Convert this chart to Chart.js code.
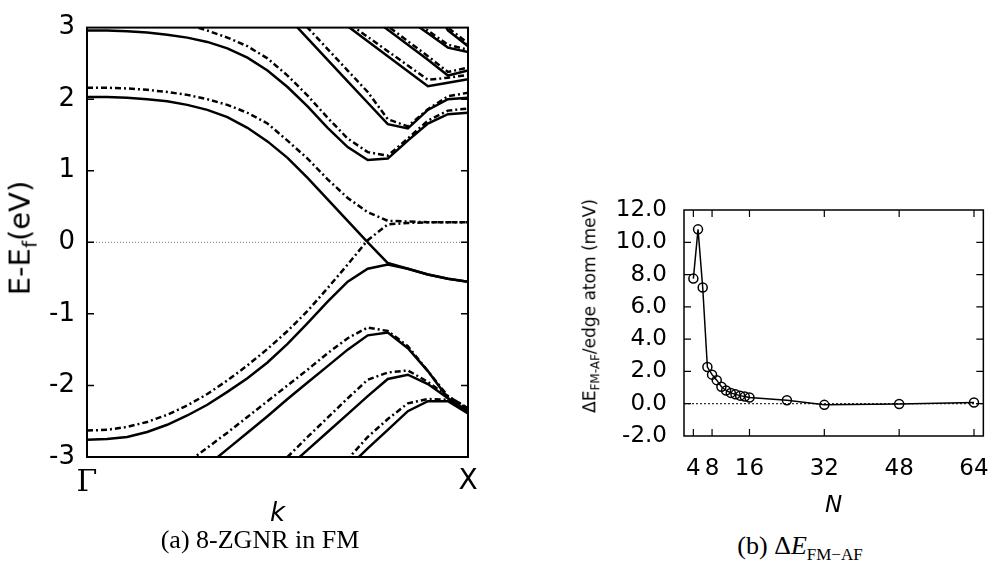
<!DOCTYPE html>
<html>
<head>
<meta charset="utf-8">
<script src="https://cdn.jsdelivr.net/npm/chart.js@4.4.1/dist/chart.umd.min.js"></script>
<style>
  body { margin: 0; width: 1008px; height: 567px; background: #fff; position: relative; overflow: hidden; font-family: "DejaVu Sans"; }
  canvas { position: absolute; }
  .ytitle { position: absolute; transform: translate(-50%, -50%) rotate(-90deg); white-space: nowrap; color: #000; }
  .caption { position: absolute; transform: translateX(-50%); font-family: "Liberation Serif"; font-size: 26px; white-space: nowrap; }
</style>
</head>
<body>
<canvas id="bandChart" width="500" height="530" style="left:0;top:0"></canvas>
<canvas id="gapChart" width="428" height="520" style="left:580px;top:0"></canvas>
<div class="ytitle" style="left:22px;top:238px;font-size:29px">E-E<sub style="font-size:20px">f</sub>(eV)</div>
<div class="ytitle" style="left:591px;top:306px;font-size:17px">ΔE<sub style="font-size:12px">FM-AF</sub>/edge atom (meV)</div>
<div class="caption" style="left:260px;top:525px">(a) 8-ZGNR in FM</div>
<div class="caption" style="left:800px;top:531px">(b) Δ<i>E</i><sub style="font-size:17px">FM−AF</sub></div>
<script>
// (a) band structure, k index 0 (Γ) .. 19 (X)
const kIdx = [0, 1, 2, 3, 4, 5, 6, 7, 8, 9, 10, 11, 12, 13, 14, 15, 16, 17, 18, 19];
const kTickIdx = [0, 19];
const kLabels = ['Γ', 'X'];
const zeroK = [0, 19];

// spin up (solid)
const c1Up = [2.03, 2.03, 2.02, 2.00, 1.97, 1.92, 1.85, 1.75, 1.60, 1.41, 1.18, 0.90, 0.60, 0.30, 0.00, -0.29, -0.37, -0.45, -0.51, -0.55];
const v1Up = [-2.76, -2.75, -2.72, -2.65, -2.55, -2.42, -2.27, -2.09, -1.90, -1.68, -1.42, -1.13, -0.83, -0.55, -0.37, -0.31, -0.37, -0.45, -0.51, -0.55];
const c2Up = [2.96, 2.96, 2.95, 2.93, 2.90, 2.86, 2.80, 2.71, 2.58, 2.40, 2.17, 1.90, 1.60, 1.33, 1.15, 1.17, 1.42, 1.66, 1.79, 1.81];
const c3Up = [null, null, null, null, null, null, null, null, null, null, 3.15, 2.85, 2.55, 2.25, 1.95, 1.65, 1.59, 1.85, 2.00, 2.02];
const c4Up = [null, null, null, null, null, null, null, null, null, null, null, null, 3.23, 3.02, 2.81, 2.60, 2.39, 2.18, 2.23, 2.28];
const c5Up = [null, null, null, null, null, null, null, null, null, null, null, null, null, null, 3.18, 2.97, 2.76, 2.55, 2.33, 2.40];
const c6Up = [null, null, null, null, null, null, null, null, null, null, null, null, null, null, null, null, 3.12, 2.92, 2.72, 2.66];
const c7Up = [null, null, null, null, null, null, null, null, null, null, null, null, null, null, null, null, null, 3.45, 2.96, 2.74];
const v2Up = [null, null, null, null, null, -3.35, -3.12, -2.89, -2.66, -2.43, -2.19, -1.96, -1.73, -1.50, -1.30, -1.26, -1.48, -1.80, -2.18, -2.38];
const v3Up = [null, null, null, null, null, null, null, null, null, -3.40, -3.15, -2.90, -2.65, -2.40, -2.15, -1.91, -1.85, -1.98, -2.18, -2.36];
const v4Up = [null, null, null, null, null, null, null, null, null, null, null, null, -3.40, -3.15, -2.88, -2.62, -2.36, -2.22, -2.22, -2.39];

// spin down (dash-dot)
const c1Dn = [2.16, 2.16, 2.15, 2.13, 2.10, 2.06, 2.00, 1.92, 1.81, 1.66, 1.42, 1.17, 0.88, 0.62, 0.42, 0.30, 0.29, 0.28, 0.28, 0.28];
const v1Dn = [-2.63, -2.62, -2.58, -2.51, -2.41, -2.28, -2.12, -1.93, -1.72, -1.49, -1.24, -0.96, -0.64, -0.31, 0.03, 0.25, 0.27, 0.28, 0.28, 0.28];
const c2Dn = [3.10, 3.10, 3.09, 3.08, 3.07, 3.04, 2.96, 2.86, 2.74, 2.57, 2.33, 2.05, 1.74, 1.45, 1.26, 1.21, 1.45, 1.70, 1.84, 1.87];
const c3Dn = [null, null, null, null, null, null, null, null, null, null, 3.30, 3.00, 2.70, 2.40, 2.10, 1.72, 1.62, 1.86, 2.04, 2.09];
const c4Dn = [null, null, null, null, null, null, null, null, null, null, null, null, 3.28, 3.07, 2.87, 2.67, 2.47, 2.27, 2.30, 2.34];
const c5Dn = [null, null, null, null, null, null, null, null, null, null, null, null, null, null, 3.23, 3.02, 2.81, 2.60, 2.38, 2.44];
const c6Dn = [null, null, null, null, null, null, null, null, null, null, null, null, null, null, null, null, 3.17, 2.96, 2.76, 2.69];
const c7Dn = [null, null, null, null, null, null, null, null, null, null, null, null, null, null, null, null, null, 3.50, 3.00, 2.78];
const v2Dn = [null, null, null, null, -3.29, -3.08, -2.87, -2.66, -2.44, -2.22, -2.00, -1.78, -1.55, -1.34, -1.19, -1.24, -1.45, -1.80, -2.15, -2.32];
const v3Dn = [null, null, null, null, null, null, null, null, null, -3.28, -3.00, -2.72, -2.45, -2.18, -1.92, -1.82, -1.79, -1.95, -2.15, -2.32];
const v4Dn = [null, null, null, null, null, null, null, null, null, null, null, null, -3.35, -3.03, -2.72, -2.47, -2.25, -2.19, -2.20, -2.32];

const upBands = [c1Up, v1Up, c2Up, c3Up, c4Up, c5Up, c6Up, c7Up, v2Up, v3Up, v4Up];
const dnBands = [c1Dn, v1Dn, c2Dn, c3Dn, c4Dn, c5Dn, c6Dn, c7Dn, v2Dn, v3Dn, v4Dn];

// (b) energy difference vs ribbon width
const nWidth = [4, 5, 6, 7, 8, 9, 10, 11, 12, 13, 14, 15, 16, 24, 32, 48, 64];
const dEnergy = [7.75, 10.8, 7.2, 2.27, 1.8, 1.46, 1.05, 0.82, 0.67, 0.58, 0.5, 0.44, 0.39, 0.21, -0.07, -0.02, 0.08];
const nTicks = [4, 8, 16, 32, 48, 64];
const zeroN = [2, 66];

// 枠と内向きの目盛り
const frameTicks = {
  id: 'frameTicks',
  afterDraw(chart, args, opts) {
    const { ctx, chartArea: a, scales } = chart;
    ctx.save();
    ctx.strokeStyle = '#000';
    ctx.lineWidth = opts.width;
    ctx.strokeRect(a.left, a.top, a.right - a.left, a.bottom - a.top);
    ctx.lineWidth = opts.tickWidth;
    ctx.beginPath();
    (opts.yTicks || []).forEach(v => {
      const y = scales.y.getPixelForValue(v);
      ctx.moveTo(a.left, y); ctx.lineTo(a.left + opts.len, y);
      ctx.moveTo(a.right, y); ctx.lineTo(a.right - opts.len, y);
    });
    (opts.xTicks || []).forEach(v => {
      const x = scales.x.getPixelForValue(v);
      ctx.moveTo(x, a.bottom); ctx.lineTo(x, a.bottom - opts.len);
      ctx.moveTo(x, a.top); ctx.lineTo(x, a.top + opts.len);
    });
    ctx.stroke();
    ctx.restore();
  }
};

const toPoints = band => kIdx.map((k, i) => ({ x: k, y: band[i] }));

const bandSets = [];
upBands.forEach(band => bandSets.push({
  data: toPoints(band), borderColor: '#000', borderWidth: 2.5, pointRadius: 0, tension: 0, clip: 0
}));
dnBands.forEach(band => bandSets.push({
  data: toPoints(band), borderColor: '#000', borderWidth: 2.5, borderDash: [6, 3, 2, 3], pointRadius: 0, tension: 0, clip: 0
}));
bandSets.unshift({
  data: zeroK.map(k => ({ x: k, y: 0 })), borderColor: '#777', borderWidth: 1, borderDash: [1, 2], pointRadius: 0, clip: 0
});

new Chart(document.getElementById('bandChart'), {
  type: 'line',
  data: { datasets: bandSets },
  plugins: [frameTicks],
  options: {
    responsive: false,
    animation: false,
    devicePixelRatio: 1,
    layout: { padding: { top: 15, right: 32, left: 0, bottom: 0 } },
    plugins: {
      legend: { display: false },
      tooltip: { enabled: false },
      frameTicks: { width: 2, tickWidth: 1.5, len: 7, yTicks: [-2, -1, 0, 1, 2] }
    },
    scales: {
      x: {
        type: 'linear', min: 0, max: 19,
        grid: { display: false, drawTicks: false },
        border: { display: false },
        afterBuildTicks: s => { s.ticks = kTickIdx.map(v => ({ value: v })); },
        afterFit: s => { s.height = 73; },
        ticks: {
          padding: 8, maxRotation: 0, color: '#000',
          callback: (v, i) => kLabels[i],
          font: c => c.index === 0 ? { family: 'DejaVu Serif', size: 30 } : { family: 'DejaVu Sans', size: 28 }
        },
        title: { display: true, text: 'k', color: '#000', padding: 0, font: { family: 'DejaVu Sans', size: 26, style: 'italic' } }
      },
      y: {
        min: -3, max: 3,
        grid: { display: false, drawTicks: false },
        border: { display: false },
        afterFit: s => { s.width = 87; },
        ticks: { stepSize: 1, padding: 12, color: '#000', font: { family: 'DejaVu Sans', size: 26 } }
      }
    }
  }
});

new Chart(document.getElementById('gapChart'), {
  type: 'line',
  data: {
    datasets: [
      {
        data: zeroN.map(n => ({ x: n, y: 0 })), borderColor: '#000', borderWidth: 1, borderDash: [2, 2], pointRadius: 0, clip: 0
      },
      {
        data: nWidth.map((n, i) => ({ x: n, y: dEnergy[i] })),
        borderColor: '#000', borderWidth: 1.5, tension: 0,
        pointRadius: 4.5, pointBorderWidth: 1.5, pointBorderColor: '#000', pointBackgroundColor: 'rgba(0,0,0,0)'
      }
    ]
  },
  plugins: [frameTicks],
  options: {
    responsive: false,
    animation: false,
    devicePixelRatio: 1,
    layout: { padding: { top: 210, right: 12, left: 0, bottom: 0 } },
    plugins: {
      legend: { display: false },
      tooltip: { enabled: false },
      frameTicks: { width: 1.5, tickWidth: 1.2, len: 7, yTicks: [0, 2, 4, 6, 8, 10], xTicks: nTicks }
    },
    scales: {
      x: {
        type: 'linear', min: 2, max: 66,
        grid: { display: false, drawTicks: false },
        border: { display: false },
        afterBuildTicks: s => { s.ticks = nTicks.map(v => ({ value: v })); },
        afterFit: s => { s.height = 84; },
        ticks: { padding: 19, maxRotation: 0, autoSkip: false, color: '#000', font: { family: 'DejaVu Sans', size: 23 } },
        title: { display: true, text: 'N', color: '#000', padding: 0, font: { family: 'DejaVu Sans', size: 23, style: 'italic' } }
      },
      y: {
        min: -2, max: 12,
        grid: { display: false, drawTicks: false },
        border: { display: false },
        afterFit: s => { s.width = 104; },
        ticks: { stepSize: 2, padding: 17, color: '#000', font: { family: 'DejaVu Sans', size: 23 }, callback: v => v.toFixed(1) }
      }
    }
  }
});
</script>
</body>
</html>
